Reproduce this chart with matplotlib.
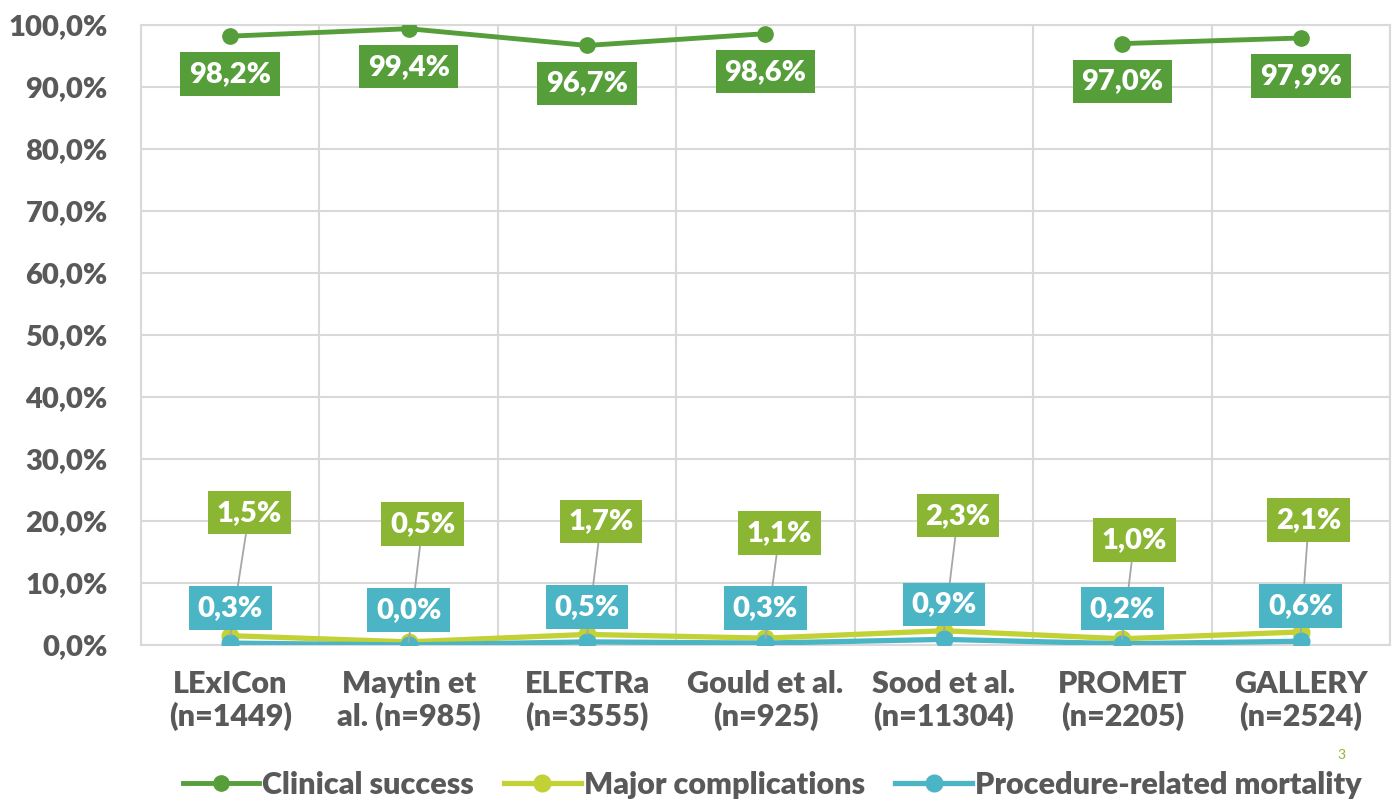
import numpy as np
import matplotlib.pyplot as plt
from matplotlib.ticker import FixedLocator, FuncFormatter

plt.rcParams['font.family'] = ['Lato', 'DejaVu Sans']

studies = ['LExICon\n(n=1449)', 'Maytin et\nal. (n=985)', 'ELECTRa\n(n=3555)', 'Gould et al.\n(n=925)',
           'Sood et al.\n(n=11304)', 'PROMET\n(n=2205)', 'GALLERY\n(n=2524)']
clinical = [98.2, 99.4, 96.7, 98.6, np.nan, 97.0, 97.9]
major = [1.5, 0.5, 1.7, 1.1, 2.3, 1.0, 2.1]
mortality = [0.3, 0.0, 0.5, 0.3, 0.9, 0.2, 0.6]

c_clin = '#559E39'
c_major = '#C2D135'
c_major_lbl = '#8BB634'
c_mort = '#4BB5C5'
grey = '#595959'
W = 'heavy'

fig = plt.figure(figsize=(13.96, 8.01), dpi=100)
ax = fig.add_axes([0.101, 0.1948, 0.8947, 0.774])
x = np.arange(len(studies))

ax.plot(x, clinical, color=c_clin, lw=3.5, marker='o', ms=11, label='Clinical success', zorder=4)
ax.plot(x, major, color=c_major, lw=3.8, marker='o', ms=12, label='Major complications', zorder=4)
ax.plot(x, mortality, color=c_mort, lw=3.8, marker='o', ms=12, label='Procedure-related mortality', zorder=5)

fmt = lambda v: f'{v:.1f}%'.replace('.', ',')
box = dict(boxstyle='square,pad=0.3', lw=0)

for i, v in enumerate(clinical):
    if np.isnan(v):
        continue
    ax.annotate(fmt(v), (i, v), xytext=(0, -38), textcoords='offset pixels', ha='center', va='center',
                fontsize=21, fontweight=W, color='white', bbox=dict(box, fc=c_clin), zorder=6)

major_off = [(19, 123), (14, 118), (14, 113), (14, 105), (14, 115), (12, 99), (8, 112)]
for i, v in enumerate(major):
    dx, dy = major_off[i]
    ax.annotate(fmt(v), (i, v), xytext=(dx, dy), textcoords='offset pixels', ha='center', va='center',
                fontsize=21, fontweight=W, color='white', bbox=dict(box, fc=c_major_lbl),
                arrowprops=dict(arrowstyle='-', color='#A6A6A6', lw=1.3, shrinkA=0, shrinkB=0), zorder=5)

for i, v in enumerate(mortality):
    ax.annotate(fmt(v), (i, v), xytext=(0, 35), textcoords='offset pixels', ha='center', va='center',
                fontsize=21, fontweight=W, color='white', bbox=dict(box, fc=c_mort), zorder=7)

ax.set_xlim(-0.5, len(studies) - 0.5)
ax.set_ylim(0, 100)
ax.set_yticks(np.arange(0, 101, 10))
ax.yaxis.set_major_formatter(FuncFormatter(lambda v, p: fmt(v)))
ax.set_xticks(x)
ax.set_xticklabels(studies)
ax.xaxis.set_minor_locator(FixedLocator(np.arange(-0.5, len(studies), 1)))
ax.grid(axis='y', color='#D9D9D9', lw=1.5)
ax.grid(axis='x', which='minor', color='#D9D9D9', lw=1.5)
ax.set_axisbelow(True)
for s in ax.spines.values():
    s.set_color('#D9D9D9')
    s.set_linewidth(1.5)
ax.tick_params(which='both', length=0)
ax.tick_params(axis='y', labelsize=21, labelcolor=grey, pad=24)
ax.tick_params(axis='x', labelsize=22, labelcolor=grey, pad=18)
for t in ax.get_xticklabels() + ax.get_yticklabels():
    t.set_fontweight(W)
    t.set_linespacing(1.15)

leg = fig.legend(loc='lower center', bbox_to_anchor=(0.553, -0.032), ncol=3, frameon=False,
                 fontsize=22, handlelength=2.5, columnspacing=1.0, handletextpad=0.1)
for t in leg.get_texts():
    t.set_color(grey)
    t.set_fontweight(W)

fig.text(0.958, 0.052, '3', color='#8BB634', fontsize=10, zorder=10)

fig.savefig('out.png', dpi=100)
